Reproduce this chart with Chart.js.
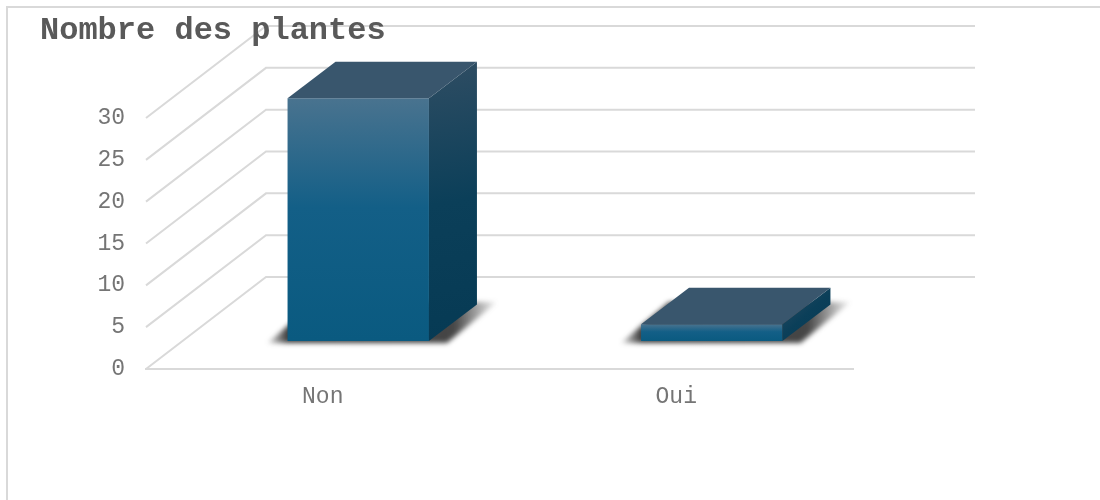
<!DOCTYPE html>
<html>
<head>
<meta charset="utf-8">
<style>
  html, body { margin: 0; background: #fff; }
  #wrap { position: relative; width: 1100px; height: 500px; overflow: hidden; }
  #frame { position: absolute; left: 6px; top: 6px; width: 1200px; height: 600px; border: 2px solid #d9d9d9; }
  canvas { position: absolute; left: 0; top: 0; }
</style>
<script src="https://cdn.jsdelivr.net/npm/chart.js@4/dist/chart.umd.min.js"></script>
</head>
<body>
<div id="wrap">
  <div id="frame"></div>
  <canvas id="plantes" width="1100" height="500"></canvas>
</div>
<script>
// Nombre des plantes — colonnes 3D
const categories = ['Non', 'Oui'];
const plantes = [29, 2];
const yTicks = [0, 5, 10, 15, 20, 25, 30];

const FONT = "'Liberation Mono', monospace";

// profondeur du plancher et des colonnes
const wall = { dx: 120, dy: 92, rightDx: 122 };
const barPlane = { dx: 35.5, dy: 28 };
const barDepth = { dx: 48, dy: 36.5 };

function poly(ctx, pts, fill) {
  ctx.beginPath();
  pts.forEach((p, i) => (i ? ctx.lineTo(p[0], p[1]) : ctx.moveTo(p[0], p[1])));
  ctx.closePath();
  ctx.fillStyle = fill;
  ctx.fill();
}

// Parois : lignes de côté et lignes du fond pour chaque graduation.
// Dessinées avant tout le reste pour passer sous le titre.
const walls = {
  id: 'walls',
  beforeDraw(chart) {
    const { ctx, chartArea, scales: { y } } = chart;
    ctx.save();
    ctx.strokeStyle = '#d9d9d9';
    ctx.lineWidth = 2;
    yTicks.forEach((t) => {
      const py = y.getPixelForValue(t);
      ctx.beginPath();
      ctx.moveTo(chartArea.left, py);
      ctx.lineTo(chartArea.left + wall.dx, py - wall.dy);
      ctx.lineTo(chartArea.right + wall.rightDx, py - wall.dy);
      ctx.stroke();
    });
    ctx.restore();
  }
};

// Ombre au sol, puis faces du dessus et de côté autour de la face avant
const bars3d = {
  id: 'bars3d',
  beforeDatasetDraw(chart, args) {
    const { ctx } = chart;
    ctx.save();
    ctx.translate(barPlane.dx, -barPlane.dy);
    args.meta.data.forEach((bar) => {
      const l = bar.x - bar.width / 2;
      const r = bar.x + bar.width / 2;
      const b = bar.base;
      const fade = ctx.createLinearGradient(l - 22, 0, r + 68, 0);
      const span = r + 68 - (l - 22);
      fade.addColorStop(0, 'rgba(50,50,50,0.05)');
      fade.addColorStop(22 / span, 'rgba(50,50,50,0.95)');
      fade.addColorStop((r + 25 - (l - 22)) / span, 'rgba(50,50,50,0.9)');
      fade.addColorStop(1, 'rgba(50,50,50,0.05)');
      ctx.save();
      ctx.filter = 'blur(2.5px)';
      poly(ctx, [[l - 20, b + 2], [r + 18, b + 2], [r + 68, b - 39], [l + 28, b - 39]], fade);
      ctx.restore();
    });
  },
  afterDatasetDraw(chart, args) {
    const { ctx } = chart;
    args.meta.data.forEach((bar) => {
      const l = bar.x - bar.width / 2;
      const r = bar.x + bar.width / 2;
      const t = bar.y;
      const b = bar.base;
      const { dx, dy } = barDepth;
      const side = ctx.createLinearGradient(r, t - dy, r + dx, b);
      side.addColorStop(0, '#2f4d63');
      side.addColorStop(0.5, '#0b3f59');
      side.addColorStop(1, '#063a54');
      poly(ctx, [[r, t], [r + dx, t - dy], [r + dx, b - dy], [r, b]], side);
      poly(ctx, [[l, t], [l + dx, t - dy], [r + dx, t - dy], [r, t]], '#39566d');
    });
    ctx.restore();
  }
};

new Chart(document.getElementById('plantes'), {
  type: 'bar',
  data: {
    labels: categories,
    datasets: [{
      data: plantes,
      barPercentage: 0.4,
      categoryPercentage: 1,
      clip: false,
      backgroundColor(c) {
        const y = c.chart.scales.y;
        if (!y || c.raw === undefined) return '#0a5a80';
        const top = y.getPixelForValue(c.raw);
        const base = y.getPixelForValue(0);
        // les échelles ne sont pas encore placées au premier passage
        if (!Number.isFinite(top) || !Number.isFinite(base)) return '#0a5a80';
        const g = c.chart.ctx.createLinearGradient(0, top, 0, base);
        g.addColorStop(0, '#49738f');
        g.addColorStop(0.45, '#135f87');
        g.addColorStop(1, '#0a5a80');
        return g;
      }
    }]
  },
  options: {
    responsive: false,
    animation: false,
    layout: { padding: { left: 40, right: 247, top: 12, bottom: 0 } },
    plugins: {
      legend: { display: false },
      tooltip: { enabled: false },
      title: {
        display: true,
        text: 'Nombre des plantes',
        align: 'start',
        color: '#595959',
        font: { family: FONT, size: 32, weight: 'bold', lineHeight: 1.2 },
        padding: { top: 0, bottom: 67.6 }
      }
    },
    scales: {
      x: {
        grid: { display: false },
        border: { display: true, color: '#d9d9d9', width: 2 },
        ticks: { color: '#757575', font: { family: FONT, size: 23 }, padding: 6, maxRotation: 0 },
        afterFit(s) { s.height = 131; }
      },
      y: {
        min: 0,
        max: 30,
        grid: { display: false },
        border: { display: false },
        afterFit(s) { s.width = 106; },
        afterBuildTicks(s) { s.ticks = yTicks.map((v) => ({ value: v })); },
        ticks: { color: '#757575', font: { family: FONT, size: 23 }, padding: 13 }
      }
    }
  },
  plugins: [walls, bars3d]
});
</script>
</body>
</html>
